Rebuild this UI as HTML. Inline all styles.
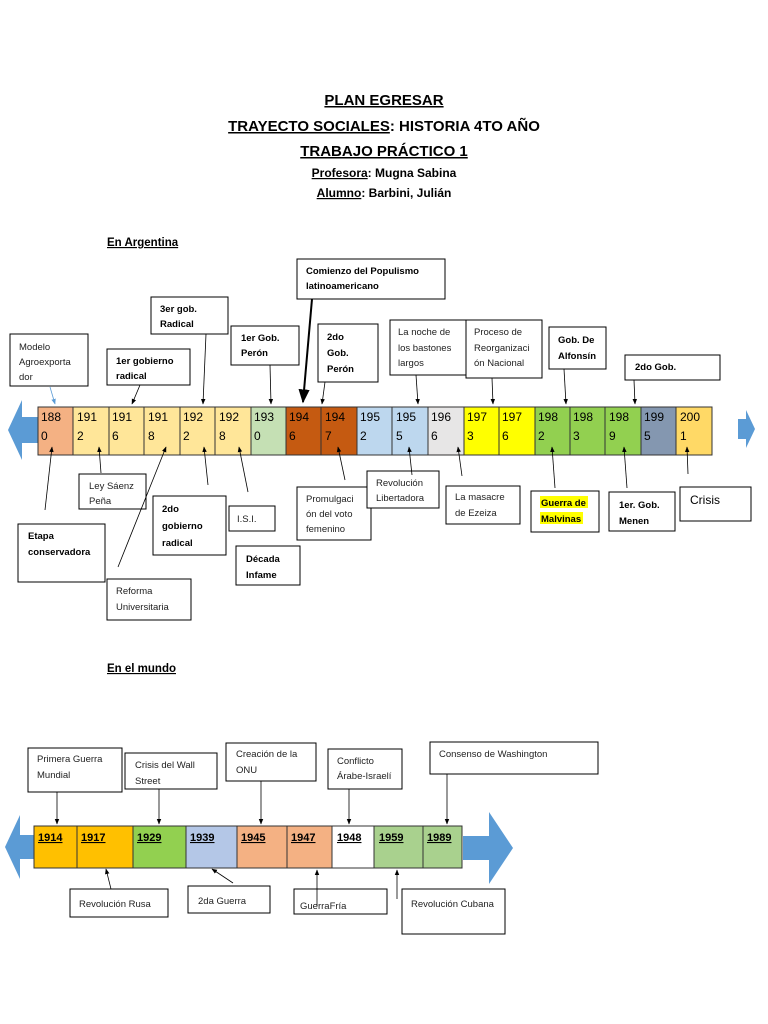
<!DOCTYPE html>
<html><head><meta charset="utf-8"><style>
html,body{margin:0;padding:0;background:#fff;}
svg{display:block;font-family:"Liberation Sans",sans-serif;}
.b{fill:#fff;stroke:#000;stroke-width:1;}
.t{font-size:9.5px;font-weight:bold;fill:#000;}
.n{font-size:9.5px;fill:#222;}
.y{font-size:12px;fill:#000;}
.c{stroke:#000;stroke-width:0.8;}
.w{font-size:11px;font-weight:bold;text-decoration:underline;}
</style></head><body>
<svg width="768" height="1024" viewBox="0 0 768 1024" xmlns="http://www.w3.org/2000/svg">
<defs>
<marker id="a" viewBox="0 0 10 10" refX="9" refY="5" markerWidth="7" markerHeight="7" orient="auto"><path d="M0,1L10,5L0,9z" fill="#000"/></marker>
<marker id="ab" viewBox="0 0 10 10" refX="9" refY="5" markerWidth="7" markerHeight="7" orient="auto"><path d="M0,1L10,5L0,9z" fill="#5b9bd5"/></marker>
</defs>
<!-- titles -->
<g font-weight="bold" text-anchor="middle" fill="#000">
<text x="384" y="105" font-size="15" text-decoration="underline">PLAN EGRESAR</text>
<text x="384" y="131" font-size="15"><tspan text-decoration="underline">TRAYECTO SOCIALES</tspan>: HISTORIA 4TO AÑO</text>
<text x="384" y="156" font-size="15" text-decoration="underline">TRABAJO PRÁCTICO 1</text>
<text x="384" y="177" font-size="12"><tspan text-decoration="underline">Profesora</tspan>: Mugna Sabina</text>
<text x="384" y="197" font-size="12"><tspan text-decoration="underline">Alumno</tspan>: Barbini, Julián</text>
</g>
<text x="107" y="246" font-size="11.5" font-weight="bold" text-decoration="underline">En Argentina </text>
<text x="107" y="672" font-size="11.5" font-weight="bold" text-decoration="underline">En el mundo </text>

<!-- top arrows -->
<path d="M38,417 L22,417 L22,400 L8,430 L22,460 L22,443 L38,443z" fill="#5b9bd5"/>
<path d="M738,419 L746,419 L746,410 L755,429 L746,448 L746,439 L738,439z" fill="#5b9bd5"/>

<!-- top bar -->
<g stroke="#333" stroke-width="1">
<rect x="38" y="407" width="35" height="48" fill="#f4b183"/>
<rect x="73" y="407" width="36" height="48" fill="#ffe699"/>
<rect x="109" y="407" width="35" height="48" fill="#ffe699"/>
<rect x="144" y="407" width="36" height="48" fill="#ffe699"/>
<rect x="180" y="407" width="35" height="48" fill="#ffe699"/>
<rect x="215" y="407" width="36" height="48" fill="#ffe699"/>
<rect x="251" y="407" width="35" height="48" fill="#c5e0b4"/>
<rect x="286" y="407" width="35" height="48" fill="#c55a11"/>
<rect x="321" y="407" width="36" height="48" fill="#c55a11"/>
<rect x="357" y="407" width="35" height="48" fill="#bdd7ee"/>
<rect x="392" y="407" width="36" height="48" fill="#bdd7ee"/>
<rect x="428" y="407" width="36" height="48" fill="#e7e6e6"/>
<rect x="464" y="407" width="35" height="48" fill="#ffff00"/>
<rect x="499" y="407" width="36" height="48" fill="#ffff00"/>
<rect x="535" y="407" width="35" height="48" fill="#92d050"/>
<rect x="570" y="407" width="35" height="48" fill="#92d050"/>
<rect x="605" y="407" width="36" height="48" fill="#92d050"/>
<rect x="641" y="407" width="35" height="48" fill="#8497b0"/>
<rect x="676" y="407" width="36" height="48" fill="#ffd966"/>
</g>
<g class="y">
<text x="41" y="421">188</text><text x="41" y="440">0</text>
<text x="77" y="421">191</text><text x="77" y="440">2</text>
<text x="112" y="421">191</text><text x="112" y="440">6</text>
<text x="148" y="421">191</text><text x="148" y="440">8</text>
<text x="183" y="421">192</text><text x="183" y="440">2</text>
<text x="219" y="421">192</text><text x="219" y="440">8</text>
<text x="254" y="421">193</text><text x="254" y="440">0</text>
<text x="289" y="421">194</text><text x="289" y="440">6</text>
<text x="325" y="421">194</text><text x="325" y="440">7</text>
<text x="360" y="421">195</text><text x="360" y="440">2</text>
<text x="396" y="421">195</text><text x="396" y="440">5</text>
<text x="431" y="421">196</text><text x="431" y="440">6</text>
<text x="467" y="421">197</text><text x="467" y="440">3</text>
<text x="502" y="421">197</text><text x="502" y="440">6</text>
<text x="538" y="421">198</text><text x="538" y="440">2</text>
<text x="573" y="421">198</text><text x="573" y="440">3</text>
<text x="609" y="421">198</text><text x="609" y="440">9</text>
<text x="644" y="421">199</text><text x="644" y="440">5</text>
<text x="680" y="421">200</text><text x="680" y="440">1</text>
</g>

<!-- top boxes above -->
<rect class="b" x="10" y="334" width="78" height="52"/>
<text class="n"><tspan x="19" y="350">Modelo</tspan><tspan x="19" y="365">Agroexporta</tspan><tspan x="19" y="380">dor</tspan></text>
<line x1="50" y1="387" x2="55" y2="404" stroke="#5b9bd5" stroke-width="0.8" marker-end="url(#ab)"/>

<rect class="b" x="107" y="349" width="83" height="36"/>
<text class="t"><tspan x="116" y="364">1er gobierno</tspan><tspan x="116" y="379">radical</tspan></text>
<line class="c" x1="140" y1="385" x2="132" y2="404" marker-end="url(#a)"/>

<rect class="b" x="151" y="297" width="77" height="37"/>
<text class="t"><tspan x="160" y="312">3er gob.</tspan><tspan x="160" y="327">Radical</tspan></text>
<line class="c" x1="206" y1="334" x2="203" y2="404" marker-end="url(#a)"/>

<rect class="b" x="231" y="326" width="68" height="39"/>
<text class="t"><tspan x="241" y="341">1er Gob.</tspan><tspan x="241" y="356">Perón</tspan></text>
<line class="c" x1="270" y1="365" x2="271" y2="404" marker-end="url(#a)"/>

<rect class="b" x="297" y="259" width="148" height="40"/>
<text class="t"><tspan x="306" y="274">Comienzo del Populismo</tspan><tspan x="306" y="289">latinoamericano</tspan></text>
<line x1="312" y1="299" x2="303" y2="402" stroke="#000" stroke-width="2" marker-end="url(#a)"/>

<rect class="b" x="318" y="324" width="60" height="58"/>
<text class="t"><tspan x="327" y="340">2do</tspan><tspan x="327" y="356">Gob.</tspan><tspan x="327" y="372">Perón</tspan></text>
<line class="c" x1="325" y1="382" x2="322" y2="404" marker-end="url(#a)"/>

<rect class="b" x="390" y="320" width="76" height="55"/>
<text class="n"><tspan x="398" y="335">La noche de</tspan><tspan x="398" y="351">los bastones</tspan><tspan x="398" y="366">largos</tspan></text>
<line class="c" x1="416" y1="375" x2="418" y2="404" marker-end="url(#a)"/>

<rect class="b" x="466" y="320" width="76" height="58"/>
<text class="n"><tspan x="474" y="335">Proceso de</tspan><tspan x="474" y="351">Reorganizaci</tspan><tspan x="474" y="366">ón Nacional</tspan></text>
<line class="c" x1="492" y1="378" x2="493" y2="404" marker-end="url(#a)"/>

<rect class="b" x="549" y="327" width="57" height="42"/>
<text class="t"><tspan x="558" y="343">Gob. De</tspan><tspan x="558" y="359">Alfonsín</tspan></text>
<line class="c" x1="564" y1="369" x2="566" y2="404" marker-end="url(#a)"/>

<rect class="b" x="625" y="355" width="95" height="25"/>
<text class="t" x="635" y="370">2do Gob.</text>
<line class="c" x1="634" y1="380" x2="635" y2="404" marker-end="url(#a)"/>

<!-- top boxes below -->
<rect class="b" x="18" y="524" width="87" height="58"/>
<text class="t"><tspan x="28" y="539">Etapa</tspan><tspan x="28" y="555">conservadora</tspan></text>
<line class="c" x1="45" y1="510" x2="52" y2="447" marker-end="url(#a)"/>

<rect class="b" x="79" y="474" width="67" height="35"/>
<text class="n"><tspan x="89" y="489">Ley Sáenz</tspan><tspan x="89" y="504">Peña</tspan></text>
<line class="c" x1="101" y1="473" x2="99" y2="447" marker-end="url(#a)"/>

<rect class="b" x="107" y="579" width="84" height="41"/>
<text class="n"><tspan x="116" y="594">Reforma</tspan><tspan x="116" y="610">Universitaria</tspan></text>
<line class="c" x1="118" y1="567" x2="166" y2="447" marker-end="url(#a)"/>

<rect class="b" x="153" y="496" width="73" height="59"/>
<text class="t"><tspan x="162" y="512">2do</tspan><tspan x="162" y="529">gobierno</tspan><tspan x="162" y="546">radical</tspan></text>
<line class="c" x1="208" y1="485" x2="204" y2="447" marker-end="url(#a)"/>

<rect class="b" x="229" y="506" width="46" height="25"/>
<text class="n" x="237" y="522">I.S.I.</text>
<line class="c" x1="248" y1="492" x2="239" y2="447" marker-end="url(#a)"/>

<rect class="b" x="236" y="546" width="64" height="39"/>
<text class="t"><tspan x="246" y="562">Década</tspan><tspan x="246" y="578">Infame</tspan></text>

<rect class="b" x="297" y="487" width="74" height="53"/>
<text class="n"><tspan x="306" y="502">Promulgaci</tspan><tspan x="306" y="517">ón del voto</tspan><tspan x="306" y="532">femenino</tspan></text>
<line class="c" x1="345" y1="480" x2="338" y2="447" marker-end="url(#a)"/>

<rect class="b" x="367" y="471" width="72" height="37"/>
<text class="n"><tspan x="376" y="486">Revolución</tspan><tspan x="376" y="501">Libertadora</tspan></text>
<line class="c" x1="412" y1="475" x2="409" y2="447" marker-end="url(#a)"/>

<rect class="b" x="446" y="486" width="74" height="38"/>
<text class="n"><tspan x="455" y="500">La masacre</tspan><tspan x="455" y="516">de Ezeiza</tspan></text>
<line class="c" x1="462" y1="476" x2="458" y2="447" marker-end="url(#a)"/>

<rect class="b" x="531" y="491" width="68" height="41"/>
<rect x="540" y="496" width="48" height="12" fill="#ffff00"/>
<rect x="540" y="512" width="43" height="12" fill="#ffff00"/>
<text class="t"><tspan x="541" y="506">Guerra de</tspan><tspan x="541" y="522">Malvinas</tspan></text>
<line class="c" x1="555" y1="488" x2="552" y2="447" marker-end="url(#a)"/>

<rect class="b" x="609" y="492" width="66" height="39"/>
<text class="t"><tspan x="619" y="508">1er. Gob.</tspan><tspan x="619" y="524">Menen</tspan></text>
<line class="c" x1="627" y1="488" x2="624" y2="447" marker-end="url(#a)"/>

<rect class="b" x="680" y="487" width="71" height="34"/>
<text x="690" y="504" font-size="12" fill="#000">Crisis</text>
<line class="c" x1="688" y1="474" x2="687" y2="447" marker-end="url(#a)"/>

<!-- bottom timeline -->
<path d="M34,835 L20,835 L20,815 L5,847 L20,879 L20,859 L34,859z" fill="#5b9bd5"/>
<path d="M463,836 L489,836 L489,812 L513,848 L489,884 L489,860 L463,860z" fill="#5b9bd5"/>
<g stroke="#333" stroke-width="1">
<rect x="34" y="826" width="43" height="42" fill="#ffc000"/>
<rect x="77" y="826" width="56" height="42" fill="#ffc000"/>
<rect x="133" y="826" width="53" height="42" fill="#92d050"/>
<rect x="186" y="826" width="51" height="42" fill="#b4c7e7"/>
<rect x="237" y="826" width="50" height="42" fill="#f4b183"/>
<rect x="287" y="826" width="45" height="42" fill="#f4b183"/>
<rect x="332" y="826" width="42" height="42" fill="#ffffff"/>
<rect x="374" y="826" width="49" height="42" fill="#a9d18e"/>
<rect x="423" y="826" width="39" height="42" fill="#a9d18e"/>
</g>
<g class="w">
<text x="38" y="841">1914</text><text x="81" y="841">1917</text><text x="137" y="841">1929</text>
<text x="190" y="841">1939</text><text x="241" y="841">1945</text><text x="291" y="841">1947</text>
<text x="337" y="841">1948</text><text x="379" y="841">1959</text><text x="427" y="841">1989</text>
</g>

<rect class="b" x="28" y="748" width="94" height="44"/>
<text class="n"><tspan x="37" y="762">Primera Guerra</tspan><tspan x="37" y="778">Mundial</tspan></text>
<line class="c" x1="57" y1="792" x2="57" y2="824" marker-end="url(#a)"/>

<rect class="b" x="125" y="753" width="92" height="36"/>
<text class="n"><tspan x="135" y="768">Crisis del Wall</tspan><tspan x="135" y="784">Street</tspan></text>
<line class="c" x1="159" y1="789" x2="159" y2="824" marker-end="url(#a)"/>

<rect class="b" x="226" y="743" width="90" height="38"/>
<text class="n"><tspan x="236" y="757">Creación de la</tspan><tspan x="236" y="773">ONU</tspan></text>
<line class="c" x1="261" y1="781" x2="261" y2="824" marker-end="url(#a)"/>

<rect class="b" x="328" y="749" width="74" height="40"/>
<text class="n"><tspan x="337" y="764">Conflicto</tspan><tspan x="337" y="779">Árabe-Israelí</tspan></text>
<line class="c" x1="349" y1="789" x2="349" y2="824" marker-end="url(#a)"/>

<rect class="b" x="430" y="742" width="168" height="32"/>
<text class="n" x="439" y="757">Consenso de Washington</text>
<line class="c" x1="447" y1="774" x2="447" y2="824" marker-end="url(#a)"/>

<rect class="b" x="70" y="889" width="98" height="28"/>
<text class="n" x="79" y="907">Revolución Rusa</text>
<line class="c" x1="111" y1="889" x2="106" y2="869" marker-end="url(#a)"/>

<rect class="b" x="188" y="886" width="82" height="27"/>
<text class="n" x="198" y="904">2da Guerra</text>
<line class="c" x1="233" y1="883" x2="212" y2="869" marker-end="url(#a)"/>

<rect class="b" x="294" y="889" width="93" height="25"/>
<text class="n" x="300" y="909">GuerraFría</text>
<line class="c" x1="317" y1="906" x2="317" y2="870" marker-end="url(#a)"/>

<rect class="b" x="402" y="889" width="103" height="45"/>
<text class="n" x="411" y="907">Revolución Cubana</text>
<line class="c" x1="397" y1="899" x2="397" y2="870" marker-end="url(#a)"/>
</svg>
</body></html>
